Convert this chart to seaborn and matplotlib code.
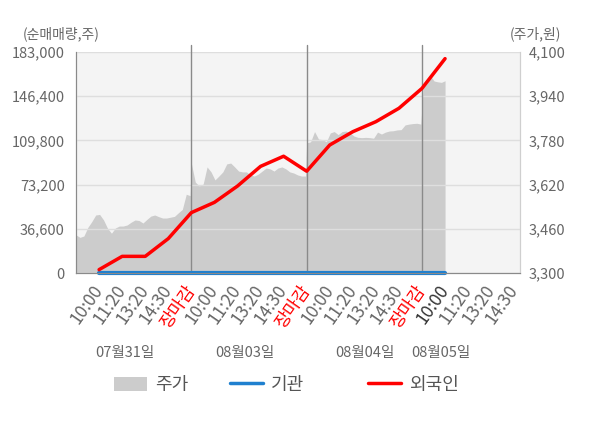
import numpy as np
import matplotlib
matplotlib.use("Agg")
import matplotlib.pyplot as plt
import seaborn as sns
from matplotlib.lines import Line2D
from matplotlib.patches import Patch
import matplotlib.transforms as mtrans

# x axis labels (one per slot) and session dates
time_labels = ['10:00', '11:20', '13:20', '14:30', '장마감',
               '10:00', '11:20', '13:20', '14:30', '장마감',
               '10:00', '11:20', '13:20', '14:30', '장마감',
               '10:00', '11:20', '13:20', '14:30']
date_labels = ['07월31일', '08월03일', '08월04일', '08월05일']

price_d1 = [3438, 3429, 3434, 3465, 3486, 3510, 3512, 3492, 3462, 3444,
            3463, 3470, 3470, 3474, 3484, 3492, 3490, 3481, 3494, 3506,
            3510, 3504, 3499, 3499, 3502, 3505, 3518, 3530, 3585, 3580]
price_d2 = [3697, 3629, 3615, 3622, 3684, 3666, 3637, 3651, 3666, 3695,
            3698, 3684, 3669, 3666, 3666, 3655, 3651, 3658, 3669, 3680,
            3677, 3669, 3680, 3684, 3677, 3666, 3662, 3655, 3651, 3651]
price_d3 = [3771, 3775, 3812, 3785, 3783, 3775, 3807, 3812, 3801, 3812,
            3814, 3807, 3796, 3791, 3790, 3791, 3790, 3788, 3810, 3803,
            3810, 3814, 3815, 3818, 3819, 3836, 3839, 3841, 3842, 3839]
price_d4 = [3972, 3985, 4013, 3995, 3992, 3990, 3996]

# cumulative net buying (left axis), one value per time slot
foreign = [2800, 13800, 13800, 28500, 50000, 58500, 72000, 88300, 96700, 84300,
           106000, 117000, 125300, 136400, 152900, 177500]
institution = [0, 0, 0, 0, 0, 0, 0, 0, 0, 0, 0, 0, 0, 0, 0, 0]

vol_ticks = [0, 36600, 73200, 109800, 146400, 183000]
price_ticks = [3300, 3460, 3620, 3780, 3940, 4100]

sns.set_style('white')
plt.rcParams['font.family'] = ['Noto Sans CJK KR', 'DejaVu Sans']

fig = plt.figure(figsize=(6, 4.28), dpi=100)
ax = fig.add_axes([0.1267, 0.3621, 0.74, 0.5164])
ax2 = ax.twinx()
ax.set_zorder(2)
ax.patch.set_visible(False)
ax2.patch.set_visible(True)
ax2.set_facecolor('#f4f4f4')

# price area: each session spans 5 label slots
sessions = [price_d1, price_d2, price_d3]
px, py = [], []
for d, vals in enumerate(sessions):
    px.extend(np.linspace(5 * d - 1, 5 * d + 3.95, len(vals)))
    py.extend(vals)
px.extend(np.linspace(14.05, 15.0, len(price_d4)))
py.extend(price_d4)
ax2.fill_between(px, py, 3300, color='#cccccc', lw=0, zorder=1)

ax2.set_ylim(3300, 4100)
ax2.set_yticks(price_ticks)
ax2.set_yticklabels([f'{v:,}' for v in price_ticks])
ax2.yaxis.grid(True, color='#dedede', lw=1)
ax2.set_axisbelow(False)
for xv in [4, 9, 14]:
    ax2.axvline(xv, ymin=0, ymax=1.032, color='#8a8a8a', lw=1, zorder=3, clip_on=False)

# lines on the volume axis
xs = np.arange(len(foreign))
sns.lineplot(x=xs, y=institution, ax=ax, color='#1f80cf', lw=3, clip_on=False)
sns.lineplot(x=xs, y=foreign, ax=ax, color='#ff0000', lw=2.5, clip_on=False)

ax.set_ylim(0, 183000)
ax.set_yticks(vol_ticks)
ax.set_yticklabels([f'{v:,}' for v in vol_ticks])
ax.set_xlim(-1, 18.25)
ax.set_xticks(range(len(time_labels)))
ax.set_xticklabels(time_labels, rotation=55, ha='right', rotation_mode='anchor',
                   va='center', fontsize=12.5)
for i, t in enumerate(ax.get_xticklabels()):
    if time_labels[i] == '장마감':
        t.set_color('#ff0000')
    elif i == 15:
        t.set_color('#333333')
    else:
        t.set_color('#666666')
ax.set_xticks([-1, 4, 9, 14, 18.25], minor=True)
ax.tick_params(axis='x', which='major', length=0, pad=10)
ax.tick_params(axis='x', which='minor', length=5, color='#8a8a8a', width=1)
ax.tick_params(axis='y', length=0, pad=8, labelsize=10.5, labelcolor='#666666')
ax2.tick_params(axis='y', length=0, pad=6, labelsize=10.5, labelcolor='#666666')
ax.set_xlabel('')
ax.set_ylabel('')

for a in (ax, ax2):
    a.spines['top'].set_visible(False)
    a.spines['left'].set_color('#8a8a8a')
    a.spines['right'].set_color('#cfcfcf')
    a.spines['bottom'].set_color('#8a8a8a')

# session dates under the time labels
trans = mtrans.blended_transform_factory(ax.transData, fig.transFigure)
for xv, lab in zip([1.13, 6.33, 11.53, 14.82], date_labels):
    ax.text(xv, 1 - 353 / 428, lab, transform=trans, ha='center', va='center',
            fontsize=10.5, color='#666666')

fig.text(61 / 600, 1 - 34 / 428, '(순매매량,주)', ha='center', va='center',
         fontsize=10, color='#666666')
fig.text(535 / 600, 1 - 34 / 428, '(주가,원)', ha='center', va='center',
         fontsize=10, color='#666666')

# legend: three separate entries
entries = [
    (Patch(facecolor='#cccccc', edgecolor='none'), '주가', 114),
    (Line2D([], [], color='#1f80cf', lw=2.5), '기관', 230),
    (Line2D([], [], color='#ff0000', lw=2.5), '외국인', 368),
]
for h, lab, xpix in entries:
    fig.legend([h], [lab], loc='center left', bbox_to_anchor=(xpix / 600, 1 - 385 / 428),
               frameon=False, borderpad=0, borderaxespad=0, handlelength=1.85,
               handleheight=0.8, handletextpad=0.4, fontsize=13, labelcolor='#555555')

fig.savefig('out.png', dpi=100)
